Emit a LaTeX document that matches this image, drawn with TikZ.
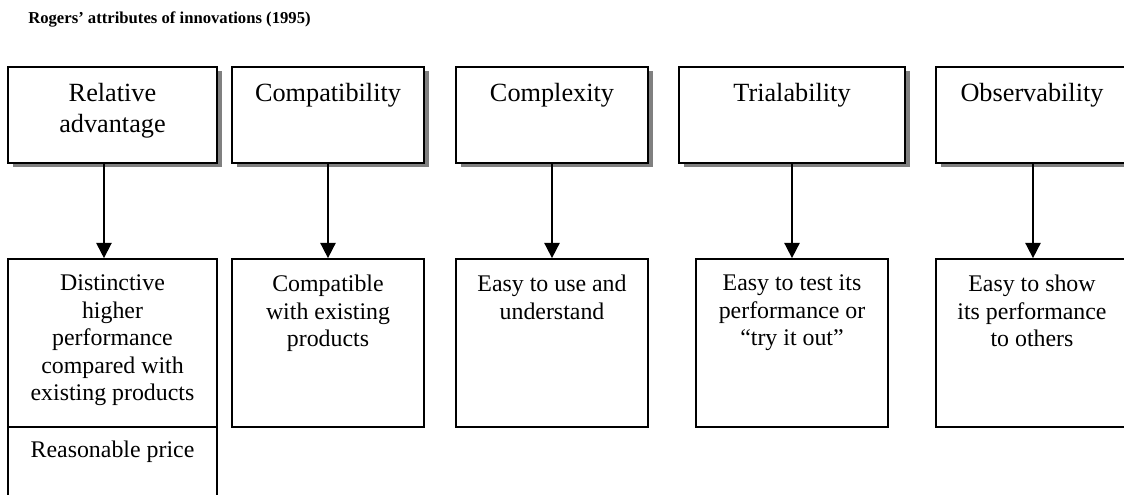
\documentclass[tikz,border=0pt]{standalone}
\usepackage{fontspec}
\setmainfont{Liberation Serif}
\usepackage{tikz}
\usetikzlibrary{arrows.meta,positioning,shadows}
\definecolor{rgShadow}{RGB}{128,128,128}
\definecolor{rgLine}{RGB}{0,0,0}

\begin{document}
\begin{tikzpicture}[x=0.75pt,y=-0.75pt,
  attrbox/.style={draw=rgLine, line width=1.3pt, fill=white, minimum width=144pt, minimum height=72pt, inner sep=0pt,
    drop shadow={shadow xshift=3.75pt, shadow yshift=-3pt, fill=rgShadow, opacity=1}},
  descbox/.style={draw=rgLine, line width=1.3pt, minimum width=144pt, minimum height=126pt, inner sep=0pt},
  attrtext/.style={anchor=north, align=center, inner sep=0pt, font=\fontsize{19.7}{23.25}\selectfont},
  desctext/.style={anchor=north, align=center, inner sep=0pt, font=\fontsize{17.9}{20.6}\selectfont},
  arr/.style={draw=rgLine, line width=1.3pt, -{Triangle[length=11.5pt,width=11.5pt]}}]
\useasboundingbox (0,0) rectangle (1124,495);
\clip (0,0) rectangle (1124,495);
\node[anchor=base west, inner sep=0pt, font=\fontsize{12.5}{15}\selectfont\bfseries] (title) at (28,24) {Rogers’ attributes of innovations (1995)};
% attributes
\node[attrbox, minimum width=156.75pt] (rel) at (112.5,115) {};
\node[attrbox] (compat) at (328,115) {};
\node[attrbox] (complex) at (552,115) {};
\node[attrbox, minimum width=169.5pt] (trial) at (792,115) {};
\node[attrbox] (observ) at (1032,115) {};
\node[attrtext] (relt) at ([yshift=-12.75pt]rel.north) {Relative\\advantage};
\node[attrtext] (compatt) at ([yshift=-12.75pt]compat.north) {Compatibility};
\node[attrtext] (complext) at ([yshift=-12.75pt]complex.north) {Complexity};
\node[attrtext] (trialt) at ([yshift=-12.75pt]trial.north) {Trialability};
\node[attrtext] (observt) at ([yshift=-12.75pt]observ.north) {Observability};
% descriptions
\node[descbox, minimum width=156.75pt] (relx) at (112.5,343) {};
\node[descbox, minimum width=156.75pt, minimum height=90pt] (price) at (112.5,487) {};
\node[descbox] (compatx) at (328,343) {};
\node[descbox] (complexx) at (552,343) {};
\node[descbox] (trialx) at (792,343) {};
\node[descbox] (observx) at (1032,343) {};
\node[desctext] (relxt) at ([yshift=-12.5pt]relx.north) {Distinctive\\higher\\performance\\compared with\\existing products};
\node[desctext] (pricet) at ([yshift=-11pt]price.north) {Reasonable price};
\node[desctext] (compatxt) at ([yshift=-12.5pt]compatx.north) {Compatible\\with existing\\products};
\node[desctext] (complexxt) at ([yshift=-12.5pt]complexx.north) {Easy to use and\\understand};
\node[desctext] (trialxt) at ([yshift=-12.5pt]trialx.north) {Easy to test its\\performance or\\“try it out”};
\node[desctext] (observxt) at ([yshift=-12.5pt]observx.north) {Easy to show\\its performance\\to others};
% arrows
\draw[arr] ([xshift=-6.4pt]rel.south) -- ([xshift=-6.4pt]relx.north);
\draw[arr] (compat) -- (compatx);
\draw[arr] (complex) -- (complexx);
\draw[arr] (trial) -- (trialx);
\draw[arr] ([xshift=0.75pt]observ.south) -- ([xshift=0.75pt]observx.north);
\end{tikzpicture}
\end{document}
